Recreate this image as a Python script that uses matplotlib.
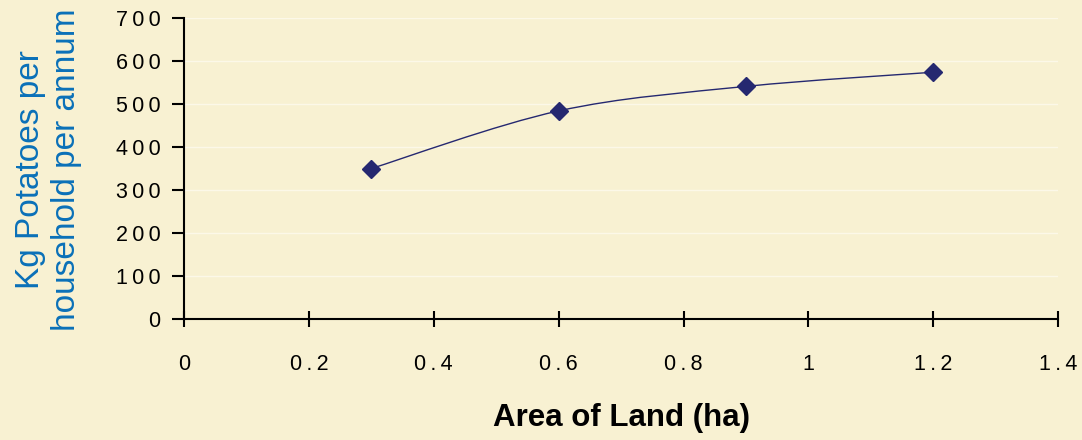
import matplotlib
matplotlib.use("Agg")
import matplotlib.pyplot as plt
from matplotlib.path import Path
from matplotlib.patches import PathPatch
from matplotlib.ticker import FuncFormatter
import numpy as np

# data
area_ha = [0.3, 0.6, 0.9, 1.2]
kg_potatoes = [350, 484, 541, 574]

bg = "#F8F1D2"
navy = "#252870"

plt.rcParams['font.family'] = ['Liberation Sans', 'DejaVu Sans']

fig = plt.figure(figsize=(10.82, 4.4), dpi=100, facecolor=bg)
ax = fig.add_axes([0.170, 0.275, 0.808, 0.684], facecolor=bg)

# smoothed line like Excel: Bezier segments with Catmull-Rom style control points
x = np.array(area_ha, dtype=float)
y = np.array(kg_potatoes, dtype=float)
verts = [(x[0], y[0])]
codes = [Path.MOVETO]
for i in range(len(x) - 1):
    x0, y0 = (x[i - 1], y[i - 1]) if i > 0 else (x[i], y[i])
    x3, y3 = (x[i + 2], y[i + 2]) if i + 2 < len(x) else (x[i + 1], y[i + 1])
    c1 = (x[i] + (x[i + 1] - x0) / 6, y[i] + (y[i + 1] - y0) / 6)
    c2 = (x[i + 1] - (x3 - x[i]) / 6, y[i + 1] - (y3 - y[i]) / 6)
    verts += [c1, c2, (x[i + 1], y[i + 1])]
    codes += [Path.CURVE4] * 3
ax.add_patch(PathPatch(Path(verts, codes), facecolor='none', edgecolor=navy, lw=1.0, zorder=3))
ax.plot(area_ha, kg_potatoes, linestyle='none', marker='D', markersize=9,
        color=navy, zorder=4)

ax.set_xlim(0, 1.4)
ax.set_ylim(0, 700)
ax.set_xticks(np.arange(0, 1.41, 0.2))
ax.set_yticks(np.arange(0, 701, 100))


def spaced(v, pos, dec):
    s = f"{v:.{dec}f}" if dec else f"{v:.0f}"
    if s.endswith(".0"):
        s = s[:-2]
    return "\u2009".join(s)


ax.xaxis.set_major_formatter(FuncFormatter(lambda v, p: spaced(v, p, 1)))
ax.yaxis.set_major_formatter(FuncFormatter(lambda v, p: spaced(v, p, 0)))

ax.grid(axis='y', color='#FCF8E8', lw=1.0)
ax.set_axisbelow(True)
for s in ['top', 'right']:
    ax.spines[s].set_visible(False)
for s in ['left', 'bottom']:
    ax.spines[s].set_linewidth(1.5)
    ax.spines[s].set_color('black')

ax.tick_params(axis='y', direction='out', length=9, width=1.5, labelsize=15.5, pad=8)
ax.tick_params(axis='x', direction='inout', length=12, width=1.5, labelsize=15.5, pad=19)

ax.set_xlabel("Area of Land (ha)", fontsize=22.5, fontweight='bold', labelpad=20)
ax.set_ylabel("Kg Potatoes per\nhousehold per annum", fontsize=24, color='#0A70B8',
              linespacing=1.2)
ax.yaxis.set_label_coords(-0.117, 0.495)

fig.savefig("out.png", dpi=100, facecolor=bg)
